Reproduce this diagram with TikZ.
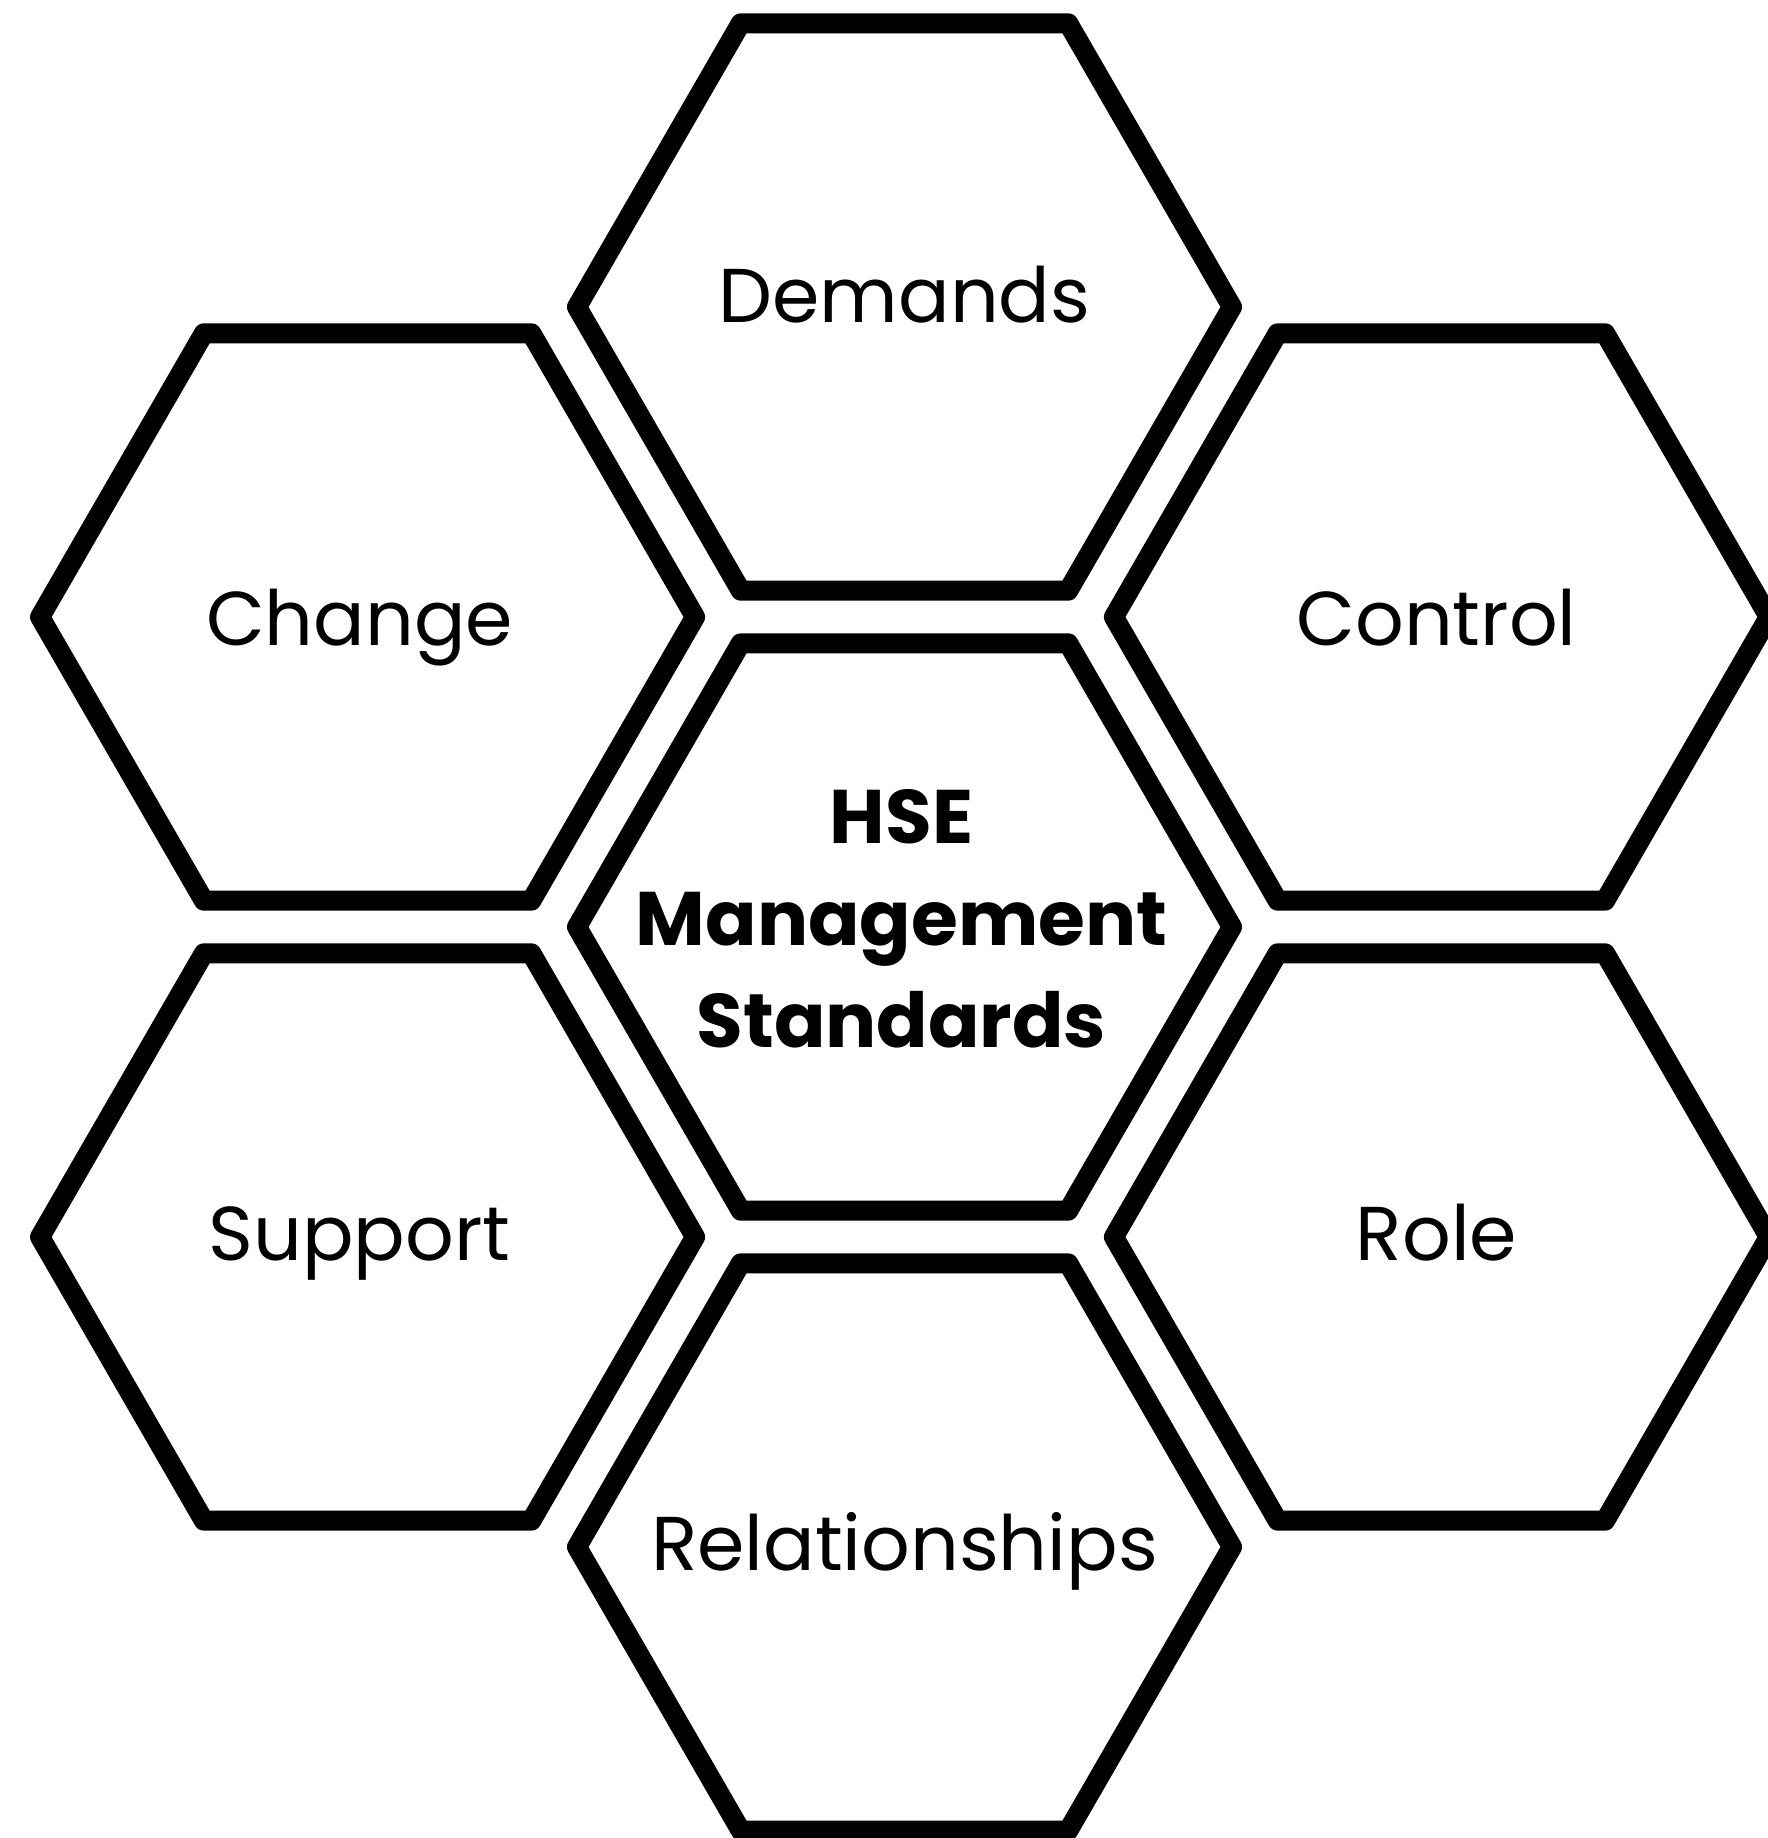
\documentclass[tikz,border=0pt]{standalone}
\usepackage{fontspec}
\setmainfont{Poppins}
\usepackage{tikz}
\usetikzlibrary{shapes.geometric}

\begin{document}
\begin{tikzpicture}[hexa/.style = {draw, regular polygon, regular polygon sides = 6,
    minimum size = 6.55cm, inner sep = 0pt, line width = 2mm, line join = round},
    txt/.style = {anchor = base, inner sep = 0pt, align = center,
    font = \fontsize{21.7}{29}\selectfont}]
  \useasboundingbox (-9.045, -9.11) rectangle (8.635, 9.27);
  \node [hexa] (HSE) at (0, 0) {};
  \node [hexa] (Dem) at (0, 6.2) {};
  \node [hexa] (Ctl) at (5.369, 3.1) {};
  \node [hexa] (Rol) at (5.369, -3.1) {};
  \node [hexa] (Rel) at (0, -6.2) {};
  \node [hexa] (Sup) at (-5.369, -3.1) {};
  \node [hexa] (Chg) at (-5.369, 3.1) {};
  \node [txt, font = \fontsize{21.6}{29}\selectfont\bfseries] (HSEt) at (-0.03, -1.2) {HSE\\Management\\Standards};
  \node [txt] (Demt) at (0, 6.04) {Demands};
  \node [txt] (Ctlt) at (5.32, 2.82) {Control};
  \node [txt] (Rolt) at (5.32, -3.33) {Role};
  \node [txt] (Relt) at (0, -6.43) {Relationships};
  \node [txt] (Supt) at (-5.45, -3.33) {Support};
  \node [txt] (Chgt) at (-5.45, 2.82) {Change};
\end{tikzpicture}
\end{document}
